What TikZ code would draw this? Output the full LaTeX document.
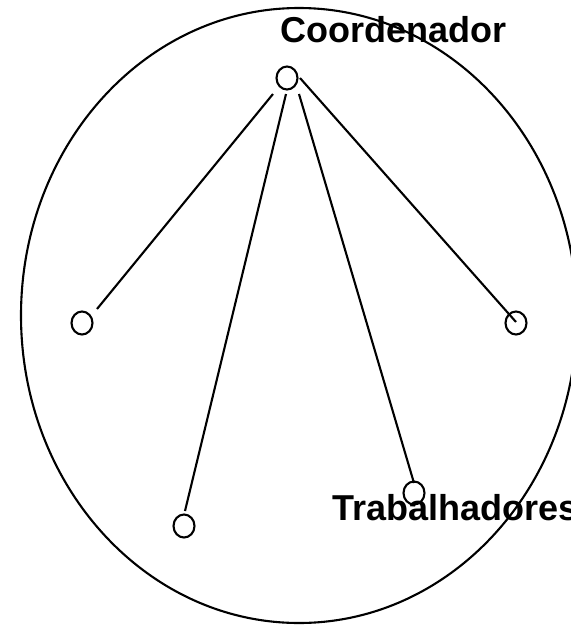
\documentclass[tikz,border=0pt]{standalone}
\usepackage{fontspec}
\setmainfont{Liberation Sans}
\usetikzlibrary{shapes.geometric}
\begin{document}
\begin{tikzpicture}[x=1pt,y=-1pt,
  thickline/.style={line width=2.1pt, draw=black},
  member/.style={ellipse, thickline, minimum width=21pt, minimum height=23pt, inner sep=0pt},
  link/.style={thickline},
  grouptitle/.style={font=\fontsize{36}{43}\selectfont\bfseries, inner sep=0pt, anchor=base west}
]
% page area; the outer boundary runs past the right edge
\clip (0,0) rectangle (571,625);
\fill[white] (0,0) rectangle (571,625);

% group boundary
\draw[thickline] (299,315.5) ellipse [x radius=278, y radius=307.5];

% members
\node[member] (top)   at (287,78)  {};
\node[member] (left)  at (82,323)  {};
\node[member] (right) at (516,323) {};
\node[member] (bl)    at (184,526) {};
\node[member] (br)    at (414,493) {};

% links from the coordinator
\draw[link] ([shift={(-14,16)}]top.center) -- ([shift={(15,-14)}]left.center);
\draw[link] ([shift={(-1,16)}]top.center)  -- ([shift={(1,-15)}]bl.center);
\draw[link] ([shift={(12,16)}]top.center)  -- ([shift={(0,-10)}]br.center);
\draw[link] ([shift={(13,0)}]top.center)   -- ([shift={(0,-1)}]right.center);

% titles
\node[grouptitle] (coord)   at (280.5,42) {Coordenador};
\node[grouptitle] (workers) at (332.2,520) {Trabalhadores};
\end{tikzpicture}
\end{document}
